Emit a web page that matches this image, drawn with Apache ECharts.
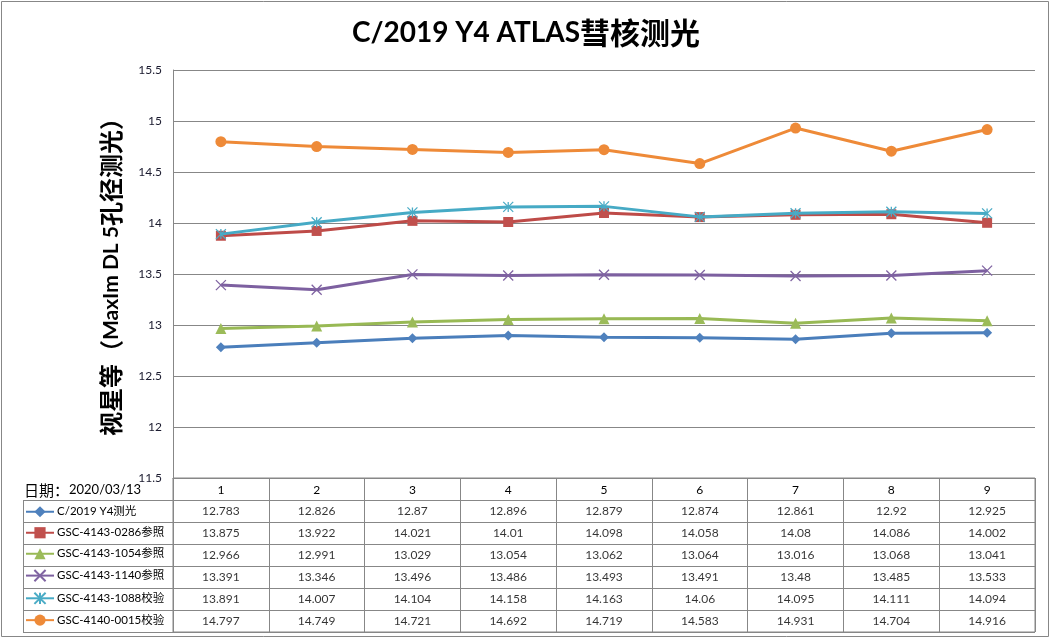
<!DOCTYPE html>
<html>
<head>
<meta charset="utf-8">
<script src="https://cdn.jsdelivr.net/npm/echarts@6/dist/echarts.min.js"></script>
<style>
html,body{margin:0;padding:0;background:#fff;}
#c{width:1052px;height:640px;}
</style>
</head>
<body>
<div id="c"></div>
<script>
var categories = ['1','2','3','4','5','6','7','8','9'];
var seriesNames = ['C/2019 Y4测光','GSC-4143-0286参照','GSC-4143-1054参照','GSC-4143-1140参照','GSC-4143-1088校验','GSC-4140-0015校验'];
var comet   = [12.783,12.826,12.87,12.896,12.879,12.874,12.861,12.92,12.925];
var ref0286 = [13.875,13.922,14.021,14.01,14.098,14.058,14.08,14.086,14.002];
var ref1054 = [12.966,12.991,13.029,13.054,13.062,13.064,13.016,13.068,13.041];
var ref1140 = [13.391,13.346,13.496,13.486,13.493,13.491,13.48,13.485,13.533];
var chk1088 = [13.891,14.007,14.104,14.158,14.163,14.06,14.095,14.111,14.094];
var chk0015 = [14.797,14.749,14.721,14.692,14.719,14.583,14.931,14.704,14.916];
var yMin = 11.5, yMax = 15.5, yStep = 0.5;

var allData = [comet, ref0286, ref1054, ref1140, chk1088, chk0015];
var lineColors = ['#4A7EBB','#BE4B48','#98B954','#7D60A0','#46AAC5','#EE8A38'];
var markColors = ['#4F81BD','#C0504D','#9BBB59','#8064A2','#4BACC6','#EE8A38'];
var symbols = ['diamond','rect','triangle','path://M0,0L10,10M10,0L0,10','path://M0,0L10,10M10,0L0,10M5,0L5,10','circle'];
var symSizes = [10,10,11,10,10,11];
var strokeOnly = [false,false,false,true,true,false];

var latin = 'Lato, "Noto Sans CJK SC", sans-serif';
var cjk = '"Noto Sans CJK SC", sans-serif';

var series = [];
allData.forEach(function(d, k){
  series.push({
    name: seriesNames[k], type: 'line', xAxisIndex: 0, yAxisIndex: 0,
    data: d, symbol: symbols[k], symbolSize: symSizes[k],
    lineStyle: {width: 3, color: lineColors[k]},
    itemStyle: strokeOnly[k] ? {color: markColors[k], borderColor: markColors[k], borderWidth: 1.3} : {color: markColors[k], borderWidth: 0},
    z: 3 + k
  });
});
// table cells
var rowCats = [''].concat(seriesNames);
var cells = [];
allData.forEach(function(d, k){
  d.forEach(function(v, i){ cells.push([i, k + 1, v]); });
});
series.push({
  type: 'scatter', xAxisIndex: 1, yAxisIndex: 1, silent: true,
  symbol: 'circle', symbolSize: 1, itemStyle: {color: 'rgba(0,0,0,0)'},
  data: cells,
  label: {show: true, position: 'inside', color: '#000', fontFamily: latin, fontSize: 12,
    formatter: function(p){ return String(p.value[2]); }}
});

// legend column borders
var graphics = [];
var rowTop = 500, rowH = 22, nRows = seriesNames.length;
for (var r = 0; r <= nRows; r++) {
  graphics.push({type:'line', shape:{x1:23, y1:rowTop + r*rowH + 0.5, x2:173, y2:rowTop + r*rowH + 0.5}, style:{stroke:'#878787', lineWidth:1}});
}
graphics.push({type:'line', shape:{x1:23.5, y1:rowTop, x2:23.5, y2:rowTop + nRows*rowH}, style:{stroke:'#878787', lineWidth:1}});
graphics.push({type:'rect', shape:{x:1.5, y:1.5, width:1047, height:635}, style:{fill:'none', stroke:'#878787', lineWidth:1}, z:-1});
graphics.push({type:'text', x:24, y:490, style:{
  text:'{a|日期：}{b|2020/03/13}', verticalAlign:'middle',
  rich:{a:{fontFamily:cjk, fontSize:15, fill:'#000'}, b:{fontFamily:latin, fontSize:13, fill:'#000'}}
}});
graphics.push({type:'text', x:111, y:271, rotation: Math.PI/2, style:{
  text:'{a|视星等（}{b|MaxIm DL 5}{a|孔径测光）}', align:'center', verticalAlign:'middle',
  rich:{a:{fontFamily:cjk, fontSize:24, fontWeight:'bold', fill:'#000'}, b:{fontFamily:latin, fontSize:21, fontWeight:'bold', fill:'#000'}}
}});

var chart = echarts.init(document.getElementById('c'), null, {renderer:'canvas'});
chart.setOption({
  animation: false,
  backgroundColor: '#fff',
  title: {
    text: '{a|C/2019 Y4 ATLAS}{b|彗核测光}', left: 'center', top: 13,
    textStyle: {rich: {a:{fontFamily:latin, fontSize:28, fontWeight:'bold', color:'#000'}, b:{fontFamily:cjk, fontSize:30, color:'#000'}}}
  },
  legend: {
    data: seriesNames, orient: 'vertical', left: 25, top: 506, itemGap: 9.5, itemWidth: 28, itemHeight: 14,
    textStyle: {fontFamily: latin, fontSize: 11.5, color: '#000', padding: [0,0,0,-2]}, selectedMode: false, padding: 0
  },
  grid: [
    {left: 173, right: 17, top: 70, height: 408},
    {left: 173, right: 17, top: 478, height: 154, show: true, borderColor: '#878787', borderWidth: 1, backgroundColor: 'transparent'}
  ],
  xAxis: [
    {type: 'category', gridIndex: 0, data: categories, boundaryGap: true,
      axisLine: {show: true, lineStyle: {color: '#878787'}}, axisTick: {show: false},
      axisLabel: {show: true, margin: 6, fontFamily: latin, fontSize: 12, color: '#000'}, splitLine: {show: false}},
    {type: 'category', gridIndex: 1, data: categories, boundaryGap: true,
      axisLine: {show: false}, axisTick: {show: false}, axisLabel: {show: false},
      splitLine: {show: true, interval: 0, lineStyle: {color: '#878787'}}}
  ],
  yAxis: [
    {type: 'value', gridIndex: 0, min: yMin, max: yMax, interval: yStep,
      axisLine: {show: true, lineStyle: {color: '#878787'}}, axisTick: {show: false},
      axisLabel: {margin: 11, fontFamily: latin, fontSize: 12, color: '#1a1a2e', formatter: function(v){ return String(v); }},
      splitLine: {show: true, lineStyle: {color: '#878787'}}},
    {type: 'category', gridIndex: 1, data: rowCats, inverse: true, boundaryGap: true,
      axisLine: {show: false}, axisTick: {show: false}, axisLabel: {show: false},
      splitLine: {show: true, interval: 0, lineStyle: {color: '#878787'}}}
  ],
  graphic: graphics,
  series: series
});
</script>
</body>
</html>
